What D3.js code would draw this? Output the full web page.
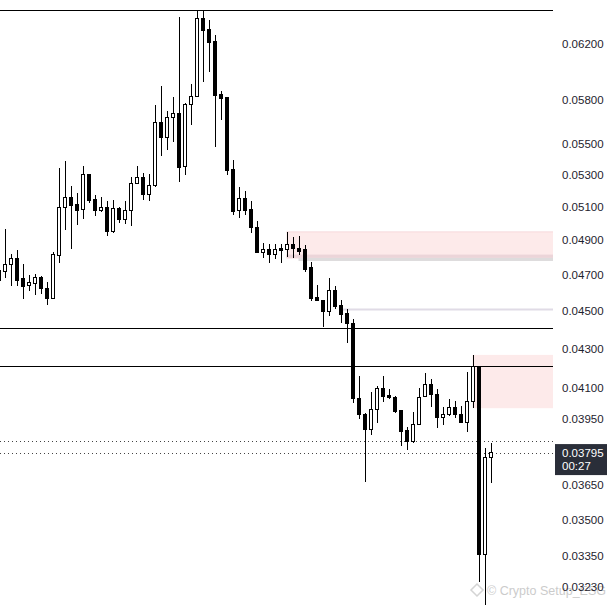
<!DOCTYPE html>
<html lang="en">
<head>
    <meta charset="utf-8">
    <title>Candles</title>
    <script src="https://d3js.org/d3.v7.min.js"></script>
    <style type="text/css">
        body { margin: 0; background: #fff; }
        text { font-family: "Liberation Sans", Arial, sans-serif; }
    </style>
</head>
<body>
<script type="text/javascript">
    // Width and height
    var w = 607;
    var h = 607;
    var plotRight = 553;

    // candle index (first one is cut at the left edge)
    var firstIndex = -1;

    var opens = [
        0.04666, 0.04717, 0.04759, 0.04794, 0.04676, 0.04641, 0.04652, 0.04685, 0.04624, 0.04565,
        0.04809, 0.05097, 0.05158, 0.05111, 0.05085, 0.05299, 0.05142, 0.05076, 0.05097, 0.04949,
        0.05091, 0.05020, 0.05076, 0.05246, 0.05284, 0.05177, 0.05229, 0.05645, 0.05542, 0.05679,
        0.05707, 0.05352, 0.05769, 0.05822, 0.06392, 0.06308, 0.06220, 0.05834, 0.05815, 0.05331,
        0.05076, 0.05152, 0.05085, 0.04976, 0.04828, 0.04846, 0.04817, 0.04848, 0.04846, 0.04875,
        0.04849, 0.04842, 0.04740, 0.04572, 0.04555, 0.04499, 0.04609, 0.04527, 0.04483, 0.04430,
        0.04051, 0.03971, 0.03903, 0.03998, 0.04100, 0.04067, 0.04056, 0.03990, 0.03895, 0.03845,
        0.03926, 0.04059, 0.04120, 0.04071, 0.03958, 0.03971, 0.04008, 0.03974, 0.03936, 0.04035,
        0.04208, 0.03356, 0.03774
    ];
    var highs = [
        0.04732, 0.04966, 0.04819, 0.04842, 0.04761, 0.04698, 0.04702, 0.04693, 0.04659, 0.04828,
        0.05341, 0.05389, 0.05229, 0.05187, 0.05356, 0.05305, 0.05173, 0.05162, 0.05135, 0.05142,
        0.05097, 0.05135, 0.05288, 0.05356, 0.05313, 0.05305, 0.05764, 0.05897, 0.05722, 0.05817,
        0.06405, 0.05776, 0.05911, 0.06461, 0.06461, 0.06384, 0.06270, 0.05864, 0.05822, 0.05395,
        0.05221, 0.05198, 0.05135, 0.05015, 0.04881, 0.04877, 0.04877, 0.04875, 0.04949, 0.04916,
        0.04924, 0.04871, 0.04774, 0.04642, 0.04559, 0.04683, 0.04637, 0.04559, 0.04510, 0.04455,
        0.04161, 0.03980, 0.04083, 0.04112, 0.04161, 0.04095, 0.04062, 0.03995, 0.03912, 0.03986,
        0.04100, 0.04175, 0.04146, 0.04095, 0.04008, 0.04048, 0.04038, 0.04014, 0.04183, 0.04268,
        0.04212, 0.03815, 0.03838
    ];
    var lows = [
        0.04654, 0.04680, 0.04638, 0.04638, 0.04565, 0.04611, 0.04587, 0.04592, 0.04532, 0.04562,
        0.04765, 0.04960, 0.04846, 0.04991, 0.05024, 0.05121, 0.05046, 0.05070, 0.04926, 0.04943,
        0.05003, 0.04996, 0.04984, 0.05242, 0.05142, 0.05135, 0.05223, 0.05421, 0.05460, 0.05515,
        0.05256, 0.05299, 0.05627, 0.05820, 0.05928, 0.05999, 0.05478, 0.05661, 0.05299, 0.05050,
        0.05030, 0.05050, 0.04943, 0.04823, 0.04794, 0.04765, 0.04788, 0.04768, 0.04803, 0.04794,
        0.04813, 0.04717, 0.04555, 0.04553, 0.04415, 0.04474, 0.04509, 0.04433, 0.04331, 0.04027,
        0.03950, 0.03665, 0.03876, 0.03931, 0.04035, 0.04046, 0.03982, 0.03827, 0.03807, 0.03841,
        0.03923, 0.04055, 0.04010, 0.03908, 0.03923, 0.03966, 0.03955, 0.03931, 0.03892, 0.04003,
        0.03250, 0.03160, 0.03658
    ];
    var closes = [
        0.04721, 0.04759, 0.04794, 0.04670, 0.04633, 0.04655, 0.04685, 0.04622, 0.04565, 0.04813,
        0.05097, 0.05158, 0.05107, 0.05080, 0.05299, 0.05137, 0.05076, 0.05097, 0.04949, 0.05091,
        0.05020, 0.05080, 0.05246, 0.05284, 0.05173, 0.05229, 0.05645, 0.05542, 0.05679, 0.05707,
        0.05348, 0.05764, 0.05822, 0.06392, 0.06302, 0.06212, 0.05829, 0.05808, 0.05326, 0.05070,
        0.05152, 0.05080, 0.04973, 0.04826, 0.04846, 0.04817, 0.04842, 0.04840, 0.04875, 0.04849,
        0.04834, 0.04732, 0.04569, 0.04555, 0.04496, 0.04609, 0.04523, 0.04482, 0.04430, 0.04051,
        0.03971, 0.03903, 0.03998, 0.04100, 0.04059, 0.04054, 0.03986, 0.03892, 0.03848, 0.03926,
        0.04056, 0.04120, 0.04071, 0.03958, 0.03971, 0.04008, 0.03974, 0.03936, 0.04035, 0.04208,
        0.03356, 0.03774, 0.03795
    ];

    // price axis ticks
    var tickValues = [0.062, 0.058, 0.055, 0.053, 0.051, 0.049, 0.047, 0.045, 0.043, 0.041,
                      0.0395, 0.0365, 0.035, 0.0335, 0.0323];
    var lastPrice = 0.03795;
    var countdown = "00:27";

    // drawn levels
    var solidLevels = [0.06461, 0.04408, 0.04212];
    var dottedLevels = [0.03848, 0.03795];
    var zoneTop = [0.04948, 0.04268];
    var zoneBottom = [0.04790, 0.04003];
    var zoneStart = [47, 78];
    // darker strip at the bottom of the upper zone, then a grey one below it
    var stripTop = 0.04815, stripBottom = 0.04796;
    var bandTop = 0.04796, bandBottom = 0.04778, bandStart = 49;
    var thinLevel = 0.04507, thinStart = 56;

    var candles = opens.map(function(o, i) {
        return { i: i + firstIndex, o: o, h: highs[i], l: lows[i], c: closes[i] };
    });

    // scales
    var x = d3.scaleLinear().domain([0, 81]).range([5.5, 491.5]);
    var y = d3.scaleLog().domain([0.03152, 0.06539]).range([h, 0]);

    var svg = d3.select("body")
                .append("svg")
                .attr("width", w)
                .attr("height", h);

    svg.append("rect").attr("width", w).attr("height", h).attr("fill", "#fff");

    // pink zones
    svg.selectAll("rect.zone")
       .data(zoneTop)
       .enter()
       .append("rect")
       .attr("class", "zone")
       .attr("x", function(d, i) { return x(zoneStart[i]) - 1; })
       .attr("y", function(d) { return y(d); })
       .attr("width", function(d, i) { return plotRight - x(zoneStart[i]) + 1; })
       .attr("height", function(d, i) { return y(zoneBottom[i]) - y(d); })
       .attr("fill", "#fdeaea");

    // faint top edge of the upper zone
    svg.append("line")
       .attr("x1", x(zoneStart[0]) - 1).attr("x2", plotRight)
       .attr("y1", y(zoneTop[0])).attr("y2", y(zoneTop[0]))
       .attr("stroke", "#f6d9dc").attr("stroke-width", 1);

    svg.append("rect")
       .attr("x", x(zoneStart[0]) - 1)
       .attr("y", y(stripTop))
       .attr("width", plotRight - x(zoneStart[0]) + 1)
       .attr("height", y(stripBottom) - y(stripTop))
       .attr("fill", "#ecd5d9");

    svg.append("rect")
       .attr("x", x(bandStart) - 1)
       .attr("y", y(bandTop))
       .attr("width", plotRight - x(bandStart) + 1)
       .attr("height", y(bandBottom) - y(bandTop))
       .attr("fill", "#dedcdd");

    svg.append("line")
       .attr("x1", x(thinStart)).attr("x2", plotRight)
       .attr("y1", y(thinLevel)).attr("y2", y(thinLevel))
       .attr("stroke", "#e0dbe6").attr("stroke-width", 2);

    // horizontal levels
    svg.selectAll("line.level")
       .data(solidLevels)
       .enter()
       .append("line")
       .attr("class", "level")
       .attr("x1", 0).attr("x2", plotRight)
       .attr("y1", function(d) { return Math.round(y(d)) + 0.5; })
       .attr("y2", function(d) { return Math.round(y(d)) + 0.5; })
       .attr("stroke", "#000").attr("stroke-width", 1);

    svg.selectAll("line.dotted")
       .data(dottedLevels)
       .enter()
       .append("line")
       .attr("class", "dotted")
       .attr("x1", 0).attr("x2", plotRight)
       .attr("y1", function(d) { return Math.round(y(d)) + 0.5; })
       .attr("y2", function(d) { return Math.round(y(d)) + 0.5; })
       .attr("stroke", "#444").attr("stroke-width", 1)
       .attr("stroke-dasharray", "1,3");

    // candles
    var g = svg.append("g").attr("shape-rendering", "crispEdges");

    g.selectAll("line.wick")
       .data(candles)
       .enter()
       .append("line")
       .attr("class", "wick")
       .attr("x1", function(d) { return x(d.i); })
       .attr("x2", function(d) { return x(d.i); })
       .attr("y1", function(d) { return y(d.h); })
       .attr("y2", function(d) { return y(d.l); })
       .attr("stroke", "#000");

    g.selectAll("rect.body")
       .data(candles)
       .enter()
       .append("rect")
       .attr("class", "body")
       .attr("x", function(d) { return x(d.i) - 2; })
       .attr("y", function(d) { return y(Math.max(d.o, d.c)); })
       .attr("width", 3)
       .attr("height", function(d) { return Math.max(1, Math.abs(y(d.o) - y(d.c))); })
       .attr("fill", function(d) { return d.c >= d.o ? "#fff" : "#000"; })
       .attr("stroke", "#000")
       .attr("stroke-width", 1);

    // watermark (sits under the axis labels, as in the source)
    var wm = svg.append("g").attr("opacity", 0.5);
    wm.append("path")
      .attr("d", "M477,584 L483,590 L477,596 L471,590 Z")
      .attr("fill", "none").attr("stroke", "#aaa").attr("stroke-width", 1.5);
    wm.append("text")
      .attr("x", 487).attr("y", 591).attr("dy", "0.35em")
      .attr("font-size", "12.5px").attr("fill", "#999")
      .text("\u00a9 Crypto Setup_ESG");

    // price axis labels
    svg.selectAll("text.tick")
       .data(tickValues)
       .enter()
       .append("text")
       .attr("class", "tick")
       .attr("x", 562)
       .attr("y", function(d) { return y(d); })
       .attr("dy", "0.35em")
       .attr("font-size", "11.5px")
       .attr("fill", "#1e222d")
       .text(function(d) { return d3.format(".5f")(d); });

    // last price badge
    var py = y(lastPrice);
    svg.append("rect")
       .attr("x", 555).attr("y", py - 8.5)
       .attr("width", 52).attr("height", 31)
       .attr("fill", "#2a2e39");
    svg.append("text")
       .attr("x", 562).attr("y", py).attr("dy", "0.35em")
       .attr("font-size", "11.5px").attr("fill", "#fff")
       .text(d3.format(".5f")(lastPrice));
    svg.append("text")
       .attr("x", 562).attr("y", py + 13.5).attr("dy", "0.35em")
       .attr("font-size", "11.5px").attr("fill", "#fff")
       .text(countdown);
</script>
</body>
</html>
